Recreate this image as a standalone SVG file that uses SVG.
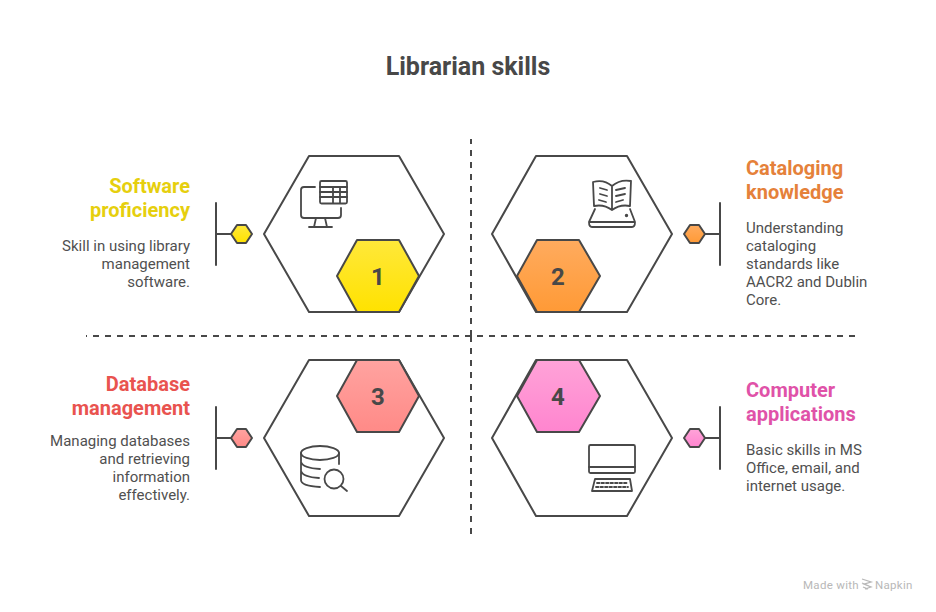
<svg xmlns="http://www.w3.org/2000/svg" width="936" height="612" viewBox="0 0 936 612">
<style>
text{font-family:Roboto,"Liberation Sans",sans-serif}
.o{fill:none;stroke:#484848;stroke-width:2;stroke-linejoin:round;stroke-linecap:round}
.i{fill:none;stroke:#484848;stroke-width:1.8;stroke-linejoin:round;stroke-linecap:round}
.h{stroke:#484848;stroke-width:2;stroke-linejoin:round}
.d{fill:none;stroke:#484848;stroke-width:2;stroke-dasharray:6 6}
.t{font-size:25px;font-weight:700;fill:#484848}
.l{font-size:20px;font-weight:700}
.b{font-size:15px;fill:#505050}
.n{font-size:24px;font-weight:700;fill:#484848;text-anchor:middle}
.e{text-anchor:end}
</style>
<defs>
<linearGradient id="g1" x1="0" y1="0" x2="0" y2="1"><stop offset="0" stop-color="#ffe83a"/><stop offset="1" stop-color="#ffe200"/></linearGradient>
<linearGradient id="g2" x1="0" y1="0" x2="0" y2="1"><stop offset="0" stop-color="#ffab5e"/><stop offset="1" stop-color="#ff9a36"/></linearGradient>
<linearGradient id="g3" x1="0" y1="0" x2="0" y2="1"><stop offset="0" stop-color="#ffa3a0"/><stop offset="1" stop-color="#ff8a87"/></linearGradient>
<linearGradient id="g4" x1="0" y1="0" x2="0" y2="1"><stop offset="0" stop-color="#ffa3d8"/><stop offset="1" stop-color="#ff85cf"/></linearGradient>
</defs>
<rect width="936" height="612" fill="#fff"/>
<text class="t" x="468" y="75" text-anchor="middle">Librarian skills</text>
<g id="connectors">
<path class="d" d="M471 336V139"/>
<path class="d" d="M471 336V534"/>
<path class="d" d="M471 336H86"/>
<path class="d" d="M477 336H858"/>
<path class="o" d="M216 203V265M216 234H231"/>
<path class="o" d="M720 203V265M705 234H720"/>
<path class="o" d="M216 407V469M216 438H231"/>
<path class="o" d="M720 407V469M705 438H720"/>
</g>
<g id="node1">
<path class="o" d="M264 234L309 156H399L444 234L399 312H309Z"/>
<path class="h" fill="url(#g1)" d="M337 276L357 240H399L419 276L399 312H357Z"/>
<text class="n" x="378" y="285">1</text>
<path class="h" fill="url(#g1)" d="M231 234L237 225H246L252 234L246 243H237Z"/>
<g class="i">
<path d="M315 187H304Q301 187 301 190V215Q301 218 304 218H338Q341 218 341 215V208"/>
<path d="M316 218L314 227M325 218L327 227M309 227H332"/>
<rect x="320" y="181" width="27" height="22.500" rx="1.500"/>
<path d="M320 187H347M320 192H347M320 197H347M333 187V203M340 187V203"/>
</g>
<text class="l e" x="190" y="193" fill="#e6cf0e">Software</text>
<text class="l e" x="190" y="217" fill="#e6cf0e">proficiency</text>
<text class="b e" x="190" y="251">Skill in using library</text>
<text class="b e" x="190" y="269">management</text>
<text class="b e" x="190" y="287">software.</text>
</g>
<g id="node2">
<path class="o" d="M492 234L536 156H627L672 234L627 312H536Z"/>
<path class="h" fill="url(#g2)" d="M517 276L537 240H579L600 276L579 312H537Z"/>
<text class="n" x="558" y="285">2</text>
<path class="h" fill="url(#g2)" d="M684 234L690 225H699L705 234L699 243H690Z"/>
<g class="i">
<path d="M612 210Q604 204 594 206L593 182Q604 179 612 186Q620 179 631 181L630 206Q620 204 612 210ZM612 186V210"/>
<path d="M600 188L607 190M600 194L607 196M599 200L606 202M616 190L625 188M616 196L625 194M616 202L623 200"/>
<path d="M595 209L589 222Q589 227 592 227H632Q635 227 635 222L630 209M589 222H635"/>
<circle cx="626.500" cy="215.500" r="0.800"/>
</g>
<text class="l" x="746" y="175" fill="#e5813a">Cataloging</text>
<text class="l" x="746" y="199" fill="#e5813a">knowledge</text>
<text class="b" x="746" y="233">Understanding</text>
<text class="b" x="746" y="251">cataloging</text>
<text class="b" x="746" y="269">standards like</text>
<text class="b" x="746" y="287">AACR2 and Dublin</text>
<text class="b" x="746" y="305">Core.</text>
</g>
<g id="node3">
<path class="o" d="M264 438L309 360H399L444 438L399 516H309Z"/>
<path class="h" fill="url(#g3)" d="M337 396L357 360H399L419 396L399 432H357Z"/>
<text class="n" x="378" y="405">3</text>
<path class="h" fill="url(#g3)" d="M231 438L237 429H246L252 438L246 447H237Z"/>
<g class="i">
<ellipse cx="320" cy="453" rx="19" ry="7"/>
<path d="M301 453V480Q301 486 320 487M339 453V464M301 462Q303 468 320 469M301 471Q303 477 319 478"/>
<circle cx="334" cy="479" r="9.500"/>
<path d="M341 486L347 491"/>
</g>
<text class="l e" x="190" y="391" fill="#e9534f">Database</text>
<text class="l e" x="190" y="415" fill="#e9534f">management</text>
<text class="b e" x="190" y="446">Managing databases</text>
<text class="b e" x="190" y="464">and retrieving</text>
<text class="b e" x="190" y="482">information</text>
<text class="b e" x="190" y="500">effectively.</text>
</g>
<g id="node4">
<path class="o" d="M492 438L536 360H627L672 438L627 516H536Z"/>
<path class="h" fill="url(#g4)" d="M517 396L537 360H579L600 396L579 432H537Z"/>
<text class="n" x="558" y="405">4</text>
<path class="h" fill="url(#g4)" d="M684 438L690 429H699L705 438L699 447H690Z"/>
<g class="i">
<rect x="589" y="445" width="46" height="28" rx="1.500"/>
<path d="M589 467H635"/>
<path d="M595 479H630L632 491H592Z"/>
<path d="M597 483H627M596 487H628" stroke-dasharray="2.500 2"/>
</g>
<text class="l" x="746" y="397" fill="#e052a8">Computer</text>
<text class="l" x="746" y="421" fill="#e052a8">applications</text>
<text class="b" x="746" y="455">Basic skills in MS</text>
<text class="b" x="746" y="473">Office, email, and</text>
<text class="b" x="746" y="491">internet usage.</text>
</g>
<g id="watermark">
<text x="803" y="589" font-size="11.500" fill="#b8b8b8" letter-spacing="0.300">Made with</text>
<path d="M862 579L871 582L864 584L871 587L865 589M862 583L869 586M863 587L868 589" fill="none" stroke="#b8b8b8" stroke-width="1.300"/>
<text x="875" y="589" font-size="11.500" fill="#b8b8b8" letter-spacing="0.300">Napkin</text>
</g>
</svg>
